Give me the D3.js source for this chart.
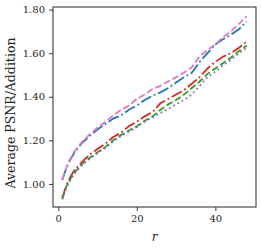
<!DOCTYPE html>
<html>
<head>
<meta charset="utf-8">
<script src="https://cdn.jsdelivr.net/npm/d3@7"></script>
<style>
  body { margin: 0; background: #fff; }
  text { font-family: "DejaVu Serif", "Liberation Serif", serif; }
</style>
</head>
<body>
<svg id="canvas" width="261" height="249"></svg>
<script>
// r values along the x axis
let rValues = [1, 2, 3, 4, 5, 6, 8, 10, 12, 14, 16, 18, 20, 22, 24, 26, 28, 30, 32, 34, 36, 38, 40, 42, 44, 46, 48];

let bluePSNR   = [1.018, 1.07, 1.11, 1.14, 1.165, 1.187, 1.22, 1.25, 1.275, 1.30, 1.315, 1.34, 1.36, 1.385, 1.405, 1.42, 1.44, 1.465, 1.49, 1.51, 1.56, 1.60, 1.64, 1.665, 1.685, 1.71, 1.745];
let pinkPSNR   = [1.02, 1.072, 1.113, 1.145, 1.17, 1.192, 1.228, 1.258, 1.285, 1.315, 1.34, 1.36, 1.39, 1.41, 1.435, 1.45, 1.47, 1.49, 1.51, 1.535, 1.585, 1.615, 1.64, 1.675, 1.70, 1.735, 1.77];
let redPSNR    = [0.937, 0.99, 1.03, 1.06, 1.08, 1.10, 1.135, 1.16, 1.185, 1.215, 1.235, 1.265, 1.285, 1.31, 1.33, 1.37, 1.39, 1.41, 1.43, 1.46, 1.49, 1.53, 1.56, 1.585, 1.60, 1.625, 1.653];
let greenPSNR  = [0.93, 0.985, 1.02, 1.05, 1.07, 1.09, 1.12, 1.145, 1.17, 1.20, 1.225, 1.245, 1.265, 1.29, 1.31, 1.34, 1.365, 1.385, 1.41, 1.44, 1.47, 1.505, 1.53, 1.555, 1.58, 1.61, 1.635];
let purplePSNR = [0.93, 0.98, 1.015, 1.045, 1.065, 1.085, 1.115, 1.14, 1.165, 1.195, 1.22, 1.24, 1.26, 1.285, 1.305, 1.325, 1.345, 1.365, 1.385, 1.41, 1.45, 1.49, 1.515, 1.545, 1.57, 1.60, 1.625];

let xTicks = [0, 20, 40];
let yTicks = [1.0, 1.2, 1.4, 1.6, 1.8];

let series = [
  { values: bluePSNR,   color: "#1f77b4", dash: "11.5,2.9,1.8,2.9" },
  { values: pinkPSNR,   color: "#e377c2", dash: "6.7,2.9" },
  { values: redPSNR,    color: "#d62728", dash: "11.5,2.9,1.8,2.9" },
  { values: greenPSNR,  color: "#2ca02c", dash: "6.7,2.9" },
  { values: purplePSNR, color: "#9467bd", dash: "1.8,3" }
];

let margin = { left: 53, top: 7, right: 5, bottom: 42 };
let width = 261 - margin.left - margin.right;
let height = 249 - margin.top - margin.bottom;

let canvas = d3.select("#canvas");
let g = canvas.append("g").attr("transform", "translate(" + margin.left + "," + margin.top + ")");

let x = d3.scaleLinear().domain([-1.35, 50.35]).range([0, width]);
let y = d3.scaleLinear().domain([0.894, 1.812]).range([height, 0]);

let line = d3.line()
  .x((d, i) => x(rValues[i]))
  .y((d) => y(d));

series.forEach((s) => {
  g.append("path")
    .attr("d", line(s.values))
    .attr("fill", "none")
    .attr("stroke", s.color)
    .attr("stroke-width", 1.8)
    .attr("stroke-dasharray", s.dash);
});

// axes
let xAxis = g.append("g")
  .attr("transform", "translate(0," + height + ")")
  .call(d3.axisBottom(x).tickValues(xTicks).tickSize(4).tickPadding(4).tickFormat(d3.format("d")));
let yAxis = g.append("g")
  .call(d3.axisLeft(y).tickValues(yTicks).tickSize(4).tickPadding(4).tickFormat(d3.format(".2f")));

[xAxis, yAxis].forEach((a) => {
  a.select(".domain").remove();
  a.selectAll("line").attr("stroke", "#262626").attr("stroke-width", 0.9);
  a.selectAll("text")
    .attr("fill", "#262626")
    .style("font-size", "10px")
    .style("font-family", "'DejaVu Serif', serif");
});

g.append("rect")
  .attr("width", width)
  .attr("height", height)
  .attr("fill", "none")
  .attr("stroke", "#262626")
  .attr("stroke-width", 1);

canvas.append("text")
  .attr("transform", "translate(11," + (margin.top + height / 2 + 6) + ") rotate(-90)")
  .attr("text-anchor", "middle")
  .attr("dominant-baseline", "middle")
  .attr("fill", "#262626")
  .style("font-size", "12.5px")
  .text("Average PSNR/Addition");

canvas.append("text")
  .attr("x", margin.left + width / 2)
  .attr("y", 241)
  .attr("text-anchor", "middle")
  .attr("fill", "#262626")
  .style("font-size", "12px")
  .style("font-style", "italic")
  .text("r");
</script>
</body>
</html>
